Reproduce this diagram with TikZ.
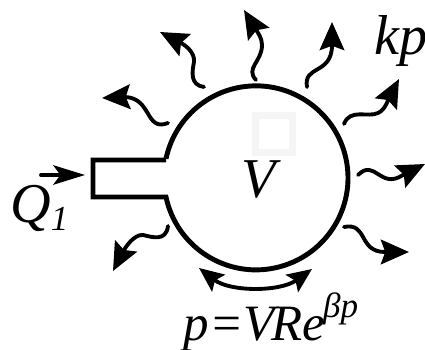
\documentclass[tikz,border=0pt]{standalone}
\usepackage{fontspec}
\setmainfont{Liberation Serif}
\usetikzlibrary{arrows.meta, positioning}
\tikzset{
    wall/.style={line width=2.8pt, line join=miter},
    flow/.style={line width=2.2pt, line cap=round, -{Stealth[length=16pt, width=14pt, inset=2.5pt]}},
    lab/.style={inner sep=0pt, font=\fontsize{32}{32}\selectfont\itshape}
}
\newcommand{\upper}[1]{\raisebox{13pt}{\fontsize{20}{20}\selectfont #1}}
\begin{document}
\begin{tikzpicture}[x=0.02cm, y=-0.02cm]
    \useasboundingbox (0,0) rectangle (425,350);

    % Faint square
    \node[draw=black!4, line width=4pt, minimum size=0.74cm, inner sep=0pt] (mark) at (274,134) {};

    % Chamber
    \coordinate (neck_top) at (166,160);
    \coordinate (neck_bot) at (166,197);
    \coordinate (stem_top) at (93,160);
    \coordinate (stem_bot) at (93,197);
    \draw[wall] (neck_top) -- (stem_top) -- (stem_bot) -- (neck_bot)
        arc[start angle=168, end angle=-168, radius=92];

    % Labels
    \node[lab] (vol) at (259,180) {V};
    \node[lab, anchor=base] (rate) at (401,55) {kp};
    \node[lab, anchor=base west] (inflow) at (10,223) {Q\raisebox{-4pt}{\fontsize{20}{20}\selectfont 1}};
    \node[lab, anchor=base, font=\fontsize{29}{29}\selectfont\itshape] (law) at (271,340) {p=V\kern-2ptRe\kern-1pt\upper{βp}};

    % Inflow
    \coordinate (q_from) at (41,175);
    \coordinate (q_to) at (85,175);
    \draw[flow, -{Stealth[length=18pt, width=11pt, inset=4pt]}] (q_from) -- (q_to);

    % Wavy leaks
    \coordinate (a_from) at (168,226);
    \coordinate (a_to) at (113,271);
    \draw[flow] (a_from) .. controls (166,242) and (152,237) .. (143,235)
        .. controls (134,234) and (125,248) .. (a_to);

    \coordinate (b_from) at (168,123);
    \coordinate (b_to) at (102,98);
    \draw[flow] (b_from) .. controls (145,132) and (152,98) .. (125,97) -- (b_to);

    \coordinate (c_from) at (204,87);
    \coordinate (c_to) at (160,32);
    \draw[flow] (c_from) .. controls (190,85) and (192,72) .. (194,62)
        .. controls (195,52) and (185,45) .. (c_to);

    \coordinate (d_from) at (256,80);
    \coordinate (d_to) at (244,10);
    \draw[flow] (d_from) .. controls (245,68) and (262,62) .. (262,45)
        .. controls (262,38) and (258,33) .. (d_to);

    \coordinate (e_from) at (307,87);
    \coordinate (e_to) at (332,22);
    \draw[flow] (e_from) .. controls (303,65) and (332,75) .. (332,45) -- (e_to);

    \coordinate (f_from) at (344,124);
    \coordinate (f_to) at (399,79);
    \draw[flow] (f_from) .. controls (350,108) and (368,118) .. (378,113)
        .. controls (385,110) and (388,100) .. (f_to);

    \coordinate (g_from) at (358,175);
    \coordinate (g_to) at (425,164);
    \draw[flow] (g_from) .. controls (375,158) and (380,190) .. (403,175) -- (g_to);

    \coordinate (h_from) at (344,227);
    \coordinate (h_to) at (409,252);
    \draw[flow] (h_from) .. controls (368,222) and (358,252) .. (385,252) -- (h_to);

    % Spread along the wall
    \coordinate (s_left) at (199,268);
    \coordinate (s_right) at (312,269);
    \draw[flow, {Stealth[length=14pt, width=12pt, inset=2.5pt]}-{Stealth[length=14pt, width=12pt, inset=2.5pt]}]
        (s_left) .. controls (230,292) and (280,292) .. (s_right);
\end{tikzpicture}
\end{document}
